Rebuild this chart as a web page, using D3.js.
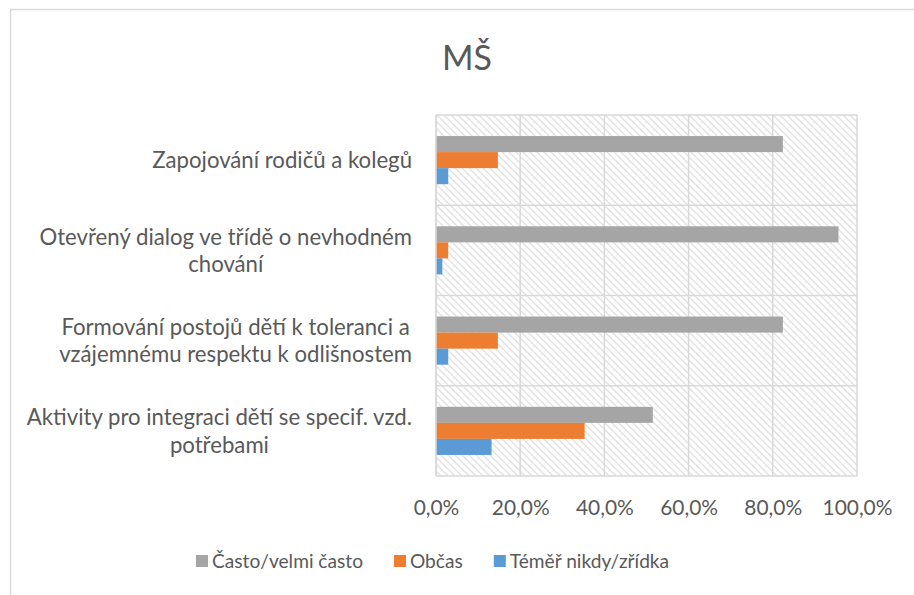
<!DOCTYPE html>
<html><head><meta charset="utf-8">
<script src="https://cdn.jsdelivr.net/npm/d3@7"></script>
<style>html,body{margin:0;padding:0;background:#fff;}svg{display:block;}</style>
</head><body>
<svg id="c" width="914" height="595"></svg>
<script>
const title = "MŠ";
const categories = [
  ["Zapojování rodičů a kolegů"],
  ["Otevřený dialog ve třídě o nevhodném", "chování"],
  ["Formování postojů dětí k toleranci a", "vzájemnému respektu k odlišnostem"],
  ["Aktivity pro integraci dětí se specif. vzd.", "potřebami"]
];
const seriesNames = ["Často/velmi často", "Občas", "Téměř nikdy/zřídka"];
const seriesColors = ["#a5a5a5", "#ed7d31", "#5b9bd5"];
const valsCasto = [0.824, 0.956, 0.824, 0.515];
const valsObcas = [0.147, 0.029, 0.147, 0.353];
const valsNikdy = [0.029, 0.015, 0.029, 0.132];
const tickValues = [0, 0.2, 0.4, 0.6, 0.8, 1.0];
const tickLabels = ["0,0%", "20,0%", "40,0%", "60,0%", "80,0%", "100,0%"];

const series = [valsCasto, valsObcas, valsNikdy];
const FONT = "Lato, 'Open Sans', sans-serif";
const TXT = "#595959";
const GRID = "#d9d9d9";

const svg = d3.select("#c");
const M = {left: 436, right: 857, top: 115, bottom: 476};

function measure(str, size) {
  const t = svg.append("text").attr("font-family", FONT).attr("font-size", size).text(str);
  const w = t.node().getComputedTextLength(); t.remove(); return w;
}
function fit(targets) {
  let r = 0; targets.forEach(([s, w]) => r += w / measure(s, 20)); return 20 * r / targets.length;
}
const FS_CAT = fit([["Otevřený dialog ve třídě o nevhodném", 374], ["Aktivity pro integraci dětí se specif. vzd.", 384], ["Zapojování rodičů a kolegů", 260]]);
const FS_TICK = fit([["100,0%", 69], ["0,0%", 46.5]]);
const FS_LEG = fit([["Často/velmi často", 150], ["Téměř nikdy/zřídka", 163], ["Občas", 52]]);
const TFS = 40 * 50 / measure(title, 40);

svg.append("rect").attr("x", 10.5).attr("y", 9.5).attr("width", 930).attr("height", 620)
  .attr("fill", "#fff").attr("stroke", GRID).attr("stroke-width", 1.5);

const defs = svg.append("defs");
const pat = defs.append("pattern").attr("id", "hatch").attr("patternUnits", "userSpaceOnUse")
  .attr("width", 7).attr("height", 7);
pat.append("rect").attr("width", 7).attr("height", 7).attr("fill", "#fff");
pat.append("path").attr("d", "M-2,-2L9,9M-2,5L2,9M5,-2L9,2").attr("stroke", "#e2e2e2").attr("stroke-width", 1.4);

const x = d3.scaleLinear().domain([0, 1]).range([M.left, M.right]);
const y = d3.scaleBand().domain(d3.range(categories.length)).range([M.top, M.bottom]).paddingInner(0).paddingOuter(0);
const yInner = d3.scaleBand().domain(d3.range(series.length)).range([0, y.bandwidth()]).paddingInner(0).paddingOuter(1.3125);

svg.append("rect").attr("x", M.left).attr("y", M.top).attr("width", M.right - M.left).attr("height", M.bottom - M.top)
  .attr("fill", "url(#hatch)");

const g = svg.append("g");
g.selectAll("line.v").data(tickValues).join("line")
  .attr("x1", d => x(d)).attr("x2", d => x(d)).attr("y1", M.top).attr("y2", M.bottom)
  .attr("stroke", GRID).attr("stroke-width", 1.5);
const hb = d3.range(categories.length + 1).map(i => i < categories.length ? y(i) : M.bottom);
g.selectAll("line.h").data(hb).join("line")
  .attr("x1", M.left).attr("x2", M.right).attr("y1", d => d).attr("y2", d => d)
  .attr("stroke", GRID).attr("stroke-width", 1.5);

series.forEach((vals, si) => {
  svg.append("g").selectAll("rect").data(vals).join("rect")
    .attr("x", x(0)).attr("y", (d, i) => y(i) + yInner(si))
    .attr("width", d => x(d) - x(0)).attr("height", yInner.bandwidth())
    .attr("fill", seriesColors[si]);
});

svg.append("line").attr("x1", M.left).attr("x2", M.left).attr("y1", M.top).attr("y2", M.bottom)
  .attr("stroke", GRID).attr("stroke-width", 1.5);

const xAxis = d3.axisBottom(x).tickValues(tickValues).tickFormat((d, i) => tickLabels[i]).tickSize(0).tickPadding(0);
const ax = svg.append("g").attr("transform", `translate(0,${M.bottom})`).call(xAxis);
ax.select(".domain").remove();
ax.selectAll("text").attr("font-family", FONT).attr("font-size", FS_TICK).attr("fill", TXT)
  .attr("dy", null).attr("y", 39);

const lh = 27.5;
categories.forEach((lines, i) => {
  const cy = y(i) + y.bandwidth() / 2;
  const t = svg.append("text").attr("font-family", FONT).attr("font-size", FS_CAT).attr("fill", TXT)
    .attr("text-anchor", "middle");
  const maxW = d3.max(lines, l => measure(l, FS_CAT));
  const cx = 412 - maxW / 2;
  lines.forEach((l, j) => {
    t.append("tspan").attr("x", cx).attr("y", cy + (j - (lines.length - 1) / 2) * lh).attr("dy", "0.36em").text(l);
  });
});

svg.append("text").attr("x", 467).attr("y", 70).attr("text-anchor", "middle")
  .attr("font-family", FONT).attr("font-size", TFS).attr("fill", TXT).text(title);

let lx = 196;
seriesNames.forEach((n, i) => {
  svg.append("rect").attr("x", lx).attr("y", 555).attr("width", 12).attr("height", 12).attr("fill", seriesColors[i]);
  svg.append("text").attr("x", lx + 16).attr("y", 568).attr("font-family", FONT).attr("font-size", FS_LEG)
    .attr("fill", TXT).text(n);
  lx += 16 + measure(n, FS_LEG) + 31;
});
</script>
</body></html>
